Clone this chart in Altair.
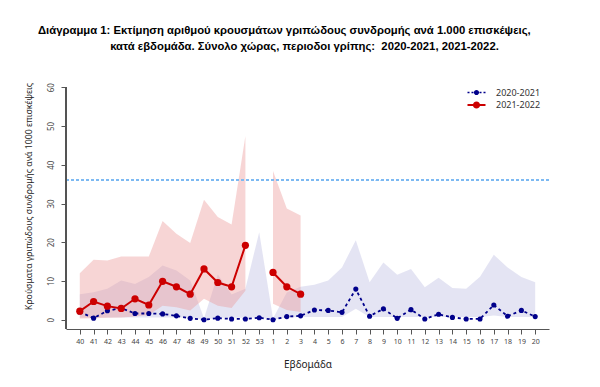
import altair as alt
import pandas as pd

weeks = ['40', '41', '42', '43', '44', '45', '46', '47', '48', '49', '50', '51', '52', '53',
         '1', '2', '3', '4', '5', '6', '7', '8', '9', '10', '11', '12', '13', '14', '15',
         '16', '17', '18', '19', '20']

# 2020-2021 weekly estimate (blue, dashed)
flu_2021 = [2.0, 0.4, 2.3, 3.0, 1.6, 1.6, 1.5, 1.0, 0.35, 0.0, 0.4, 0.2, 0.2, 0.5,
            0.0, 0.8, 1.0, 2.5, 2.4, 1.9, 7.9, 0.9, 2.8, 0.35, 2.6, 0.2, 1.4, 0.6, 0.2,
            0.2, 3.8, 0.9, 2.4, 0.8]
band_2021_lo = [0.6, 0.6, 0.6, 0.6, 0.6, 0.6, 0.6, 0.6, 0.5, 0.0, 0.5, 0.5, 0.5, 0.6,
                0.0, 0.6, 0.7, 0.7, 0.7, 0.7, 2.8, 0.7, 0.7, 0.7, 0.7, 0.7, 0.7, 0.7, 0.7,
                0.7, 1.1, 0.7, 0.7, 0.7]
band_2021_hi = [6.6, 7.1, 8.0, 10.1, 9.2, 11.0, 14.0, 12.7, 10.1, 0.4, 11.7, 6.5, 8.0, 22.6,
                0.3, 7.0, 8.5, 9.0, 10.1, 13.5, 20.5, 9.7, 14.8, 11.6, 13.1, 8.4, 10.8, 8.2, 8.0,
                11.1, 16.8, 13.5, 11.0, 9.7]

# 2021-2022 weekly estimate (red, solid) - weeks 40..52 and 1..3
flu_2122 = [2.2, 4.7, 3.5, 2.9, 5.4, 3.8, 9.9, 8.5, 6.6, 13.1, 9.6, 8.5, 19.2, None,
            12.2, 8.5, 6.6] + [None] * 17
band_2122_lo = [0.3, 0.4, 0.5, 0.6, 0.8, 1.2, 3.6, 3.2, 2.4, 5.4, 3.6, 3.0, 7.5, None,
                4.1, 2.5, 2.0] + [None] * 17
band_2122_hi = [12.0, 15.5, 15.3, 16.3, 16.3, 16.3, 25.5, 22.2, 19.8, 31.0, 26.5, 24.6, 47.4, None,
                38.4, 28.7, 26.9] + [None] * 17
segment_2122 = ['a'] * 13 + [None] + ['b'] * 3 + [None] * 17

threshold = 36
seasons = ['2020-2021', '2021-2022']
season_colors = ['#00008b', '#cc0000']

title_lines = [
    'Διάγραμμα 1: Εκτίμηση αριθμού κρουσμάτων γριπώδους συνδρομής ανά 1.000 επισκέψεις,',
    '\u200b' + '\u00a0' * 23 + 'κατά εβδομάδα. Σύνολο χώρας, περιοδοι γρίπης:\u00a0 2020-2021, 2021-2022.',
]
y_title = 'Κρούσματα γριπώδους συνδρομής ανά 1000 επισκέψεις'
x_title = 'Εβδομάδα'

df = pd.DataFrame({
    'week': weeks,
    'v2021': flu_2021,
    'lo2021': band_2021_lo,
    'hi2021': band_2021_hi,
    'v2122': flu_2122,
    'lo2122': band_2122_lo,
    'hi2122': band_2122_hi,
    'seg': segment_2122,
})

FONT = 'Noto Sans'

x_enc = alt.X('week:O',
              scale=alt.Scale(domain=weeks, type='point', padding=1.32),
              axis=alt.Axis(title=x_title, labelAngle=0, labelFontSize=7, labelFont=FONT,
                            labelColor='#444', tickColor='#555', domainColor='#555',
                            tickSize=5, labelPadding=3, titleFont=FONT, titleFontSize=10,
                            titleFontWeight='normal', titleColor='#222', titlePadding=15,
                            grid=False))
y_scale = alt.Scale(domain=[-2.4, 62.4], nice=False, zero=False)
y_axis = alt.Axis(title=y_title, values=[0, 10, 20, 30, 40, 50, 60], labelAngle=270,
                  labelAlign='center', labelBaseline='bottom', labelFontSize=8,
                  labelFont=FONT, labelColor='#444', tickColor='#555', tickSize=5,
                  labelPadding=6, domain=False, grid=False, titleFont=FONT,
                  titleFontSize=8.7, titleFontWeight='normal', titleColor='#222',
                  titlePadding=14, titleY=118)

base = alt.Chart(df)

band_blue = base.mark_area(color='#d6d6ec', opacity=0.65).encode(
    x=x_enc, y=alt.Y('lo2021:Q', scale=y_scale, axis=y_axis), y2='hi2021:Q')

band_red = base.mark_area(color='#ec9696', opacity=0.40).transform_filter(
    'isValid(datum.hi2122)').encode(
    x=x_enc, y=alt.Y('lo2122:Q', scale=y_scale), y2='hi2122:Q', detail='seg:N')

ref_line = base.mark_rule(color='#7cb9f2', strokeDash=[3, 2], strokeWidth=1).encode(
    y=alt.datum(threshold))

y_domain = base.mark_rule(color='#555', strokeWidth=1).encode(
    x=alt.value(0), y=alt.datum(60), y2=alt.datum(-2.4))

line_blue = base.mark_line(color=season_colors[0], strokeDash=[3, 3], strokeWidth=1.8).encode(
    x=x_enc, y=alt.Y('v2021:Q', scale=y_scale))
pts_blue = base.mark_point(filled=True, color=season_colors[0], size=26, opacity=1).encode(
    x=x_enc, y=alt.Y('v2021:Q', scale=y_scale))

line_red = base.mark_line(color=season_colors[1], strokeWidth=2).transform_filter(
    'isValid(datum.v2122)').encode(
    x=x_enc, y=alt.Y('v2122:Q', scale=y_scale), detail='seg:N')
pts_red = base.mark_point(filled=True, color=season_colors[1], size=52, opacity=1).transform_filter(
    'isValid(datum.v2122)').encode(
    x=x_enc, y=alt.Y('v2122:Q', scale=y_scale))

# legend-only layer (no marks drawn)
blue_sym = ('M-9,-0.8H-7V0.8H-9Z M-5,-0.8H-3V0.8H-5Z M3,-0.8H5V0.8H3Z M7,-0.8H9V0.8H7Z '
            'M-2.6,0A2.6,2.6 0 1,1 2.6,0A2.6,2.6 0 1,1 -2.6,0Z')
red_sym = ('M-9,-1.1H9V1.1H-9Z '
           'M-3.6,0A3.6,3.6 0 1,1 3.6,0A3.6,3.6 0 1,1 -3.6,0Z')
leg_df = pd.DataFrame({'season': seasons, 'week': [weeks[0], weeks[0]], 'v': [0, 0]})
legend = alt.Legend(title=None, orient='none', legendX=406, legendY=10, symbolSize=4,
                    symbolStrokeWidth=0, labelFont=FONT, labelFontSize=9,
                    labelColor='#333', labelOffset=15, rowPadding=2.5, padding=0)
legend_layer = alt.Chart(leg_df).mark_point(filled=True, opacity=1).transform_filter(
    'datum.v > 1000').encode(
    x=x_enc, y=alt.Y('v:Q', scale=y_scale),
    color=alt.Color('season:N', scale=alt.Scale(domain=seasons, range=season_colors), legend=legend),
    shape=alt.Shape('season:N', scale=alt.Scale(domain=seasons, range=[blue_sym, red_sym]), legend=legend))

chart = alt.layer(
    band_blue, band_red, ref_line, y_domain, line_blue, pts_blue, line_red, pts_red, legend_layer
).properties(
    width=483, height=251,
    title=alt.TitleParams(text=title_lines, anchor='start', frame='group', dx=-28, offset=26,
                          font='Liberation Sans', fontSize=11.3, fontWeight='bold',
                          color='#000', lineHeight=16),
    autosize=alt.AutoSizeParams(type='none'),
    padding={'left': 58, 'top': 70, 'right': 40, 'bottom': 45},
).configure_view(stroke=None)

chart.save('out.html', embed_options={'renderer': 'svg', 'actions': False})
